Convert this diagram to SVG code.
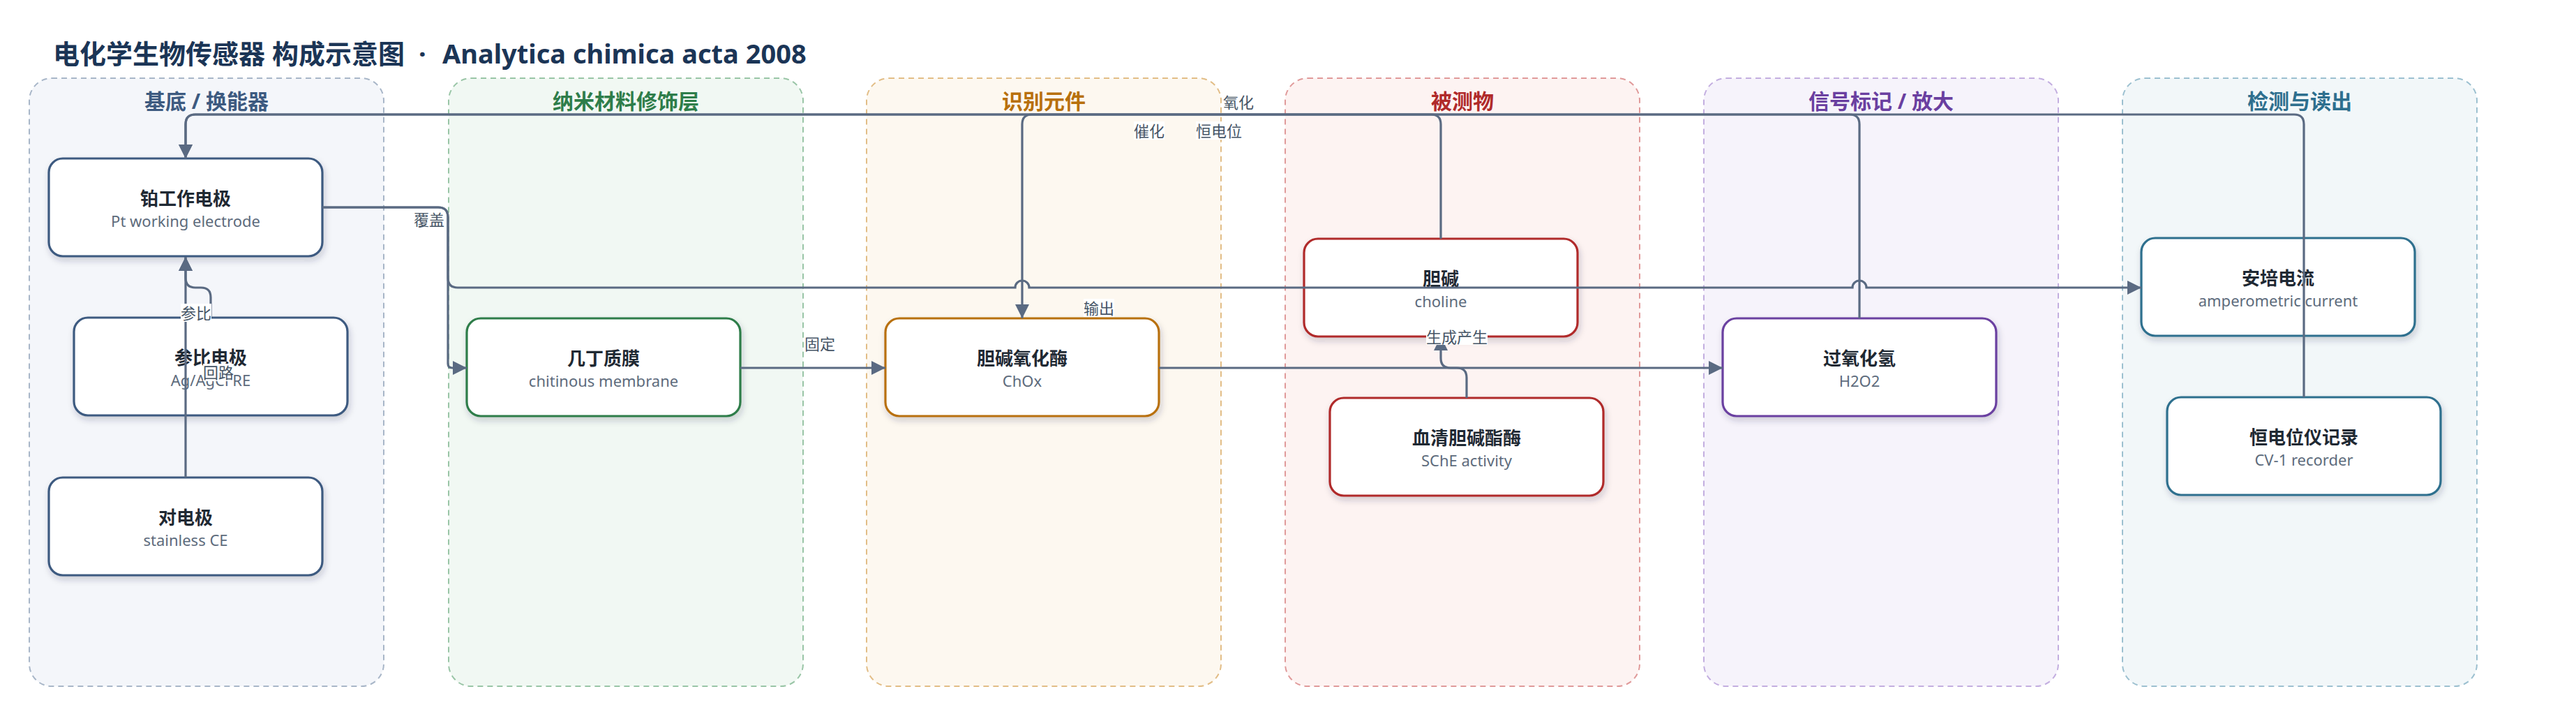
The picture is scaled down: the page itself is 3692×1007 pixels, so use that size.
<svg xmlns="http://www.w3.org/2000/svg" width="3692" height="1007" viewBox="0 0 3692 1007">
<defs>
<style>
.title{font-family:"Noto Sans","Noto Sans CJK SC",sans-serif;font-size:38px;font-weight:700;fill:#1b3556}
.gt{font-family:"Noto Sans","Noto Sans CJK SC",sans-serif;font-size:30px;font-weight:700;text-anchor:middle}
.grp{stroke-width:2;stroke-dasharray:8 6}
.node rect{fill:#ffffff;stroke-width:3.2;filter:url(#sh)}
.nt{font-family:"Noto Sans","Noto Sans CJK SC",sans-serif;font-size:26px;font-weight:700;fill:#1f2933;text-anchor:middle}
.ns{font-family:"Noto Sans","Noto Sans CJK SC",sans-serif;font-size:22px;fill:#5d6b7c;text-anchor:middle}
.edge{fill:none;stroke:#5a6a82;stroke-width:3.2}
.arr{marker-end:url(#ah)}
.lbg{fill:#ffffff}
.lt{font-family:"Noto Sans CJK SC","Noto Sans",sans-serif;font-size:22px;fill:#465566;text-anchor:middle}
</style>
<filter id="sh" x="-10%" y="-20%" width="125%" height="150%">
<feDropShadow dx="2" dy="5" stdDeviation="5" flood-color="#1e2a40" flood-opacity="0.2"/>
</filter>
<marker id="ah" markerUnits="userSpaceOnUse" markerWidth="20" markerHeight="20" refX="20" refY="10" orient="auto">
<path d="M0,0 L20,10 L0,20 z" fill="#5a6a82"/>
</marker>
</defs>
<rect x="0" y="0" width="3692" height="1007" fill="#ffffff"/>
<text class="title" x="76" y="91"><tspan>电化学生物传感器 构成示意图</tspan><tspan x="600">·</tspan><tspan x="634">Analytica chimica acta 2008</tspan></text>

<g id="groups">
<g id="g-substrate"><rect class="grp" x="42" y="112" width="508" height="871" rx="32" fill="#f4f6fa" stroke="#a8b6c8"/><text class="gt" x="296" y="156" fill="#3d5a80">基底 / 换能器</text></g>
<g id="g-nano"><rect class="grp" x="643" y="112" width="508" height="871" rx="32" fill="#f1f8f3" stroke="#99c5a6"/><text class="gt" x="897" y="156" fill="#2e7d4a">纳米材料修饰层</text></g>
<g id="g-recog"><rect class="grp" x="1242" y="112" width="508" height="871" rx="32" fill="#fdf8f0" stroke="#e2bd86"/><text class="gt" x="1496" y="156" fill="#b8700c">识别元件</text></g>
<g id="g-analyte"><rect class="grp" x="1842" y="112" width="508" height="871" rx="32" fill="#fdf3f2" stroke="#e09a9a"/><text class="gt" x="2096" y="156" fill="#b02a2a">被测物</text></g>
<g id="g-signal"><rect class="grp" x="2442" y="112" width="508" height="871" rx="32" fill="#f6f3fb" stroke="#c3aee0"/><text class="gt" x="2696" y="156" fill="#6a3fa0">信号标记 / 放大</text></g>
<g id="g-detect"><rect class="grp" x="3042" y="112" width="508" height="871" rx="32" fill="#f2f7f9" stroke="#9cc0d0"/><text class="gt" x="3296" y="156" fill="#2e6f8e">检测与读出</text></g>
</g>

<g id="nodes">
<g id="n-pt" class="node"><rect x="70" y="227" width="392" height="140" rx="20" stroke="#3d5a80"/><text class="nt" x="266" y="294">铂工作电极</text><text class="ns" x="266" y="325">Pt working electrode</text></g>
<g id="n-re" class="node"><rect x="106" y="455" width="392" height="140" rx="20" stroke="#3d5a80"/><text class="nt" x="302" y="522">参比电极</text><text class="ns" x="302" y="553">Ag/AgCl RE</text></g>
<g id="n-ce" class="node"><rect x="70" y="684" width="392" height="140" rx="20" stroke="#3d5a80"/><text class="nt" x="266" y="751">对电极</text><text class="ns" x="266" y="782">stainless CE</text></g>
<g id="n-chit" class="node"><rect x="669" y="456" width="392" height="140" rx="20" stroke="#2e7d4a"/><text class="nt" x="865" y="523">几丁质膜</text><text class="ns" x="865" y="554">chitinous membrane</text></g>
<g id="n-chox" class="node"><rect x="1269" y="456" width="392" height="140" rx="20" stroke="#b8700c"/><text class="nt" x="1465" y="523">胆碱氧化酶</text><text class="ns" x="1465" y="554">ChOx</text></g>
<g id="n-choline" class="node"><rect x="1869" y="342" width="392" height="140" rx="20" stroke="#b02a2a"/><text class="nt" x="2065" y="409">胆碱</text><text class="ns" x="2065" y="440">choline</text></g>
<g id="n-sche" class="node"><rect x="1906" y="570" width="392" height="140" rx="20" stroke="#b02a2a"/><text class="nt" x="2102" y="637">血清胆碱酯酶</text><text class="ns" x="2102" y="668">SChE activity</text></g>
<g id="n-h2o2" class="node"><rect x="2469" y="456" width="392" height="140" rx="20" stroke="#6a3fa0"/><text class="nt" x="2665" y="523">过氧化氢</text><text class="ns" x="2665" y="554">H2O2</text></g>
<g id="n-amp" class="node"><rect x="3069" y="341" width="392" height="140" rx="20" stroke="#2e6f8e"/><text class="nt" x="3265" y="408">安培电流</text><text class="ns" x="3265" y="439">amperometric current</text></g>
<g id="n-cv" class="node"><rect x="3106" y="569" width="392" height="140" rx="20" stroke="#2e6f8e"/><text class="nt" x="3302" y="636">恒电位仪记录</text><text class="ns" x="3302" y="667">CV-1 recorder</text></g>
</g>

<g id="connectors">
<path id="e-pt-chit" class="edge arr" d="M462,297 H628 Q642,297 642,311 V521 Q642,527 648,527 H669"/>
<path id="e-pt-amp" class="edge arr" d="M462,297 H628 Q642,297 642,311 V398 Q642,412 656,412 H1455 A10,10 0 0 1 1475,412 H2655 A10,10 0 0 1 2675,412 H3069"/>
<path id="e-chit-chox" class="edge arr" d="M1061,527 H1269"/>
<path id="e-chox-h2o2" class="edge arr" d="M1661,527 H2469"/>
<path id="e-choline-chox" class="edge arr" d="M2065,342 V178 Q2065,164 2051,164 H1479 Q1465,164 1465,178 V456"/>
<path id="e-h2o2-pt" class="edge arr" d="M2665,456 V178 Q2665,164 2651,164 H280 Q266,164 266,178 V227"/>
<path id="e-cv-pt" class="edge arr" d="M3302,569 V178 Q3302,164 3288,164 H280 Q266,164 266,178 V227"/>
<path id="e-sche-choline" class="edge arr" d="M2102,570 V541 Q2102,527 2088,527 H2079 Q2065,527 2065,513 V482"/>
<path id="e-re-pt" class="edge arr" d="M302,455 V426 Q302,412 288,412 H280 Q266,412 266,398 V368"/>
<path id="e-ce-pt" class="edge arr" d="M266,684 V368"/>
</g>

<g id="labels">
<rect class="lbg" x="593" y="301" width="44" height="26"/><text class="lt" x="615" y="323">覆盖</text>
<rect class="lbg" x="1153" y="479" width="44" height="26"/><text class="lt" x="1175" y="501">固定</text>
<rect class="lbg" x="1553" y="428" width="44" height="26"/><text class="lt" x="1575" y="450">输出</text>
<rect class="lbg" x="2044" y="470" width="44" height="24"/><text class="lt" x="2066" y="491">生成</text>
<rect class="lbg" x="2088" y="470" width="44" height="24"/><text class="lt" x="2110" y="491">产生</text>
<rect class="lbg" x="1625" y="174" width="44" height="26"/><text class="lt" x="1647" y="196">催化</text>
<rect class="lbg" x="1714" y="174" width="66" height="26"/><text class="lt" x="1747" y="196">恒电位</text>
<rect class="lbg" x="1753" y="133" width="44" height="26"/><text class="lt" x="1775" y="155">氧化</text>
<rect class="lbg" x="259" y="435" width="44" height="26"/><text class="lt" x="281" y="457">参比</text>
<rect class="lbg" x="291" y="521" width="44" height="25"/><text class="lt" x="313" y="542">回路</text>
</g>
</svg>
